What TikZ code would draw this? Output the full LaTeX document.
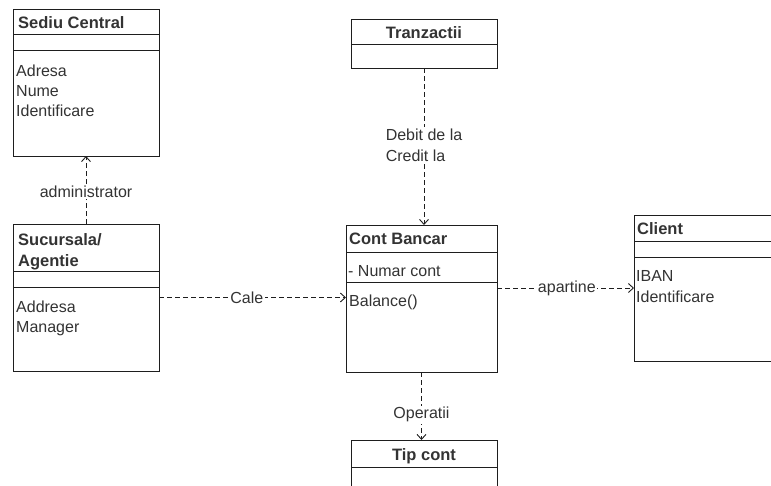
\documentclass[tikz,border=0pt]{standalone}
\usepackage{fontspec}
\setmainfont{Liberation Sans}
\usetikzlibrary{arrows.meta}
\definecolor{linec}{HTML}{1E1E1E}
\definecolor{txt}{HTML}{333333}
\tikzset{
  cls/.style={draw=linec, line width=1pt, fill=white, anchor=north west,
    inner sep=0pt, outer sep=0pt},
  sep/.style={draw=linec, line width=1pt},
  title/.style={font=\bfseries\fontsize{16.5}{18}\selectfont, text=txt,
    anchor=base west, inner sep=0pt},
  ctitle/.style={title, anchor=base},
  attr/.style={font=\fontsize{16}{18}\selectfont, text=txt,
    anchor=base west, inner sep=0pt},
  dep/.style={draw=linec, line width=0.9pt, dash pattern=on 5pt off 3pt,
    -{Straight Barb[length=5pt,width=9pt]}},
  lbl/.style={font=\fontsize{16}{21}\selectfont, text=txt, fill=white,
    inner sep=1.5pt, align=left}
}
\begin{document}
\begin{tikzpicture}[x=1pt, y=-1pt]
\useasboundingbox (0,0) rectangle (771,485);
\clip (0,0) rectangle (771,485);
\fill[white] (0,0) rectangle (771,485);

% Sediu Central
\node[cls, minimum width=146pt, minimum height=147pt] (sediu) at (13,9) {};
\draw[sep] (13,34) -- (159,34) (13,50) -- (159,50);
\node[title] (sediuT) at (18,28) {Sediu Central};
\node[attr] (sediuA1) at (16,76) {Adresa};
\node[attr] (sediuA2) at (16,96) {Nume};
\node[attr] (sediuA3) at (16,116) {Identificare};

% Tranzactii
\node[cls, minimum width=146pt, minimum height=49pt] (tranz) at (351,19) {};
\draw[sep] (351,44) -- (497,44);
\node[ctitle] (tranzT) at (424,38.5) {Tranzactii};

% Sucursala / Agentie
\node[cls, minimum width=146pt, minimum height=147pt] (suc) at (13,224) {};
\draw[sep] (13,271) -- (159,271) (13,287) -- (159,287);
\node[title] (sucT1) at (18,245.5) {Sucursala/};
\node[title] (sucT2) at (18,266.5) {Agentie};
\node[attr] (sucA1) at (16,312.5) {Addresa};
\node[attr] (sucA2) at (16,332.5) {Manager};

% Cont Bancar
\node[cls, minimum width=151pt, minimum height=147pt] (cont) at (346,225) {};
\draw[sep] (346,252) -- (497,252) (346,282) -- (497,282);
\node[title] (contT) at (349,244.5) {Cont Bancar};
\node[attr] (contA) at (348,276.5) {- Numar cont};
\node[attr] (contM) at (349,306) {Balance()};

% Client
\node[cls, minimum width=170pt, minimum height=146pt] (client) at (634,215) {};
\draw[sep] (634,241) -- (804,241) (634,257) -- (804,257);
\node[title] (clientT) at (637,234.5) {Client};
\node[attr] (clientA1) at (636,281) {IBAN};
\node[attr] (clientA2) at (636,302.5) {Identificare};

% Tip cont
\node[cls, minimum width=146pt, minimum height=80pt] (tip) at (351,440) {};
\draw[sep] (351,467) -- (497,467);
\node[ctitle] (tipT) at (424,460.5) {Tip cont};

% Dependencies
\draw[dep] (suc.north) -- (suc.north |- sediu.south)
  node[lbl, pos=0.47] {administrator};
\draw[dep] (tranz.south) -- (tranz.south |- cont.north)
  node[lbl, pos=0.49] {Debit de la\\Credit la};
\draw[dep] (suc.east) -- (suc.east -| cont.west)
  node[lbl, pos=0.47] {Cale};
\draw[dep] ([yshift=10.5pt]cont.east) -- ([yshift=10.5pt]cont.east -| client.west)
  node[lbl, pos=0.51] {apartine};
\draw[dep] (cont.south) -- (cont.south |- tip.north)
  node[lbl, pos=0.63] {Operatii};
\end{tikzpicture}
\end{document}
